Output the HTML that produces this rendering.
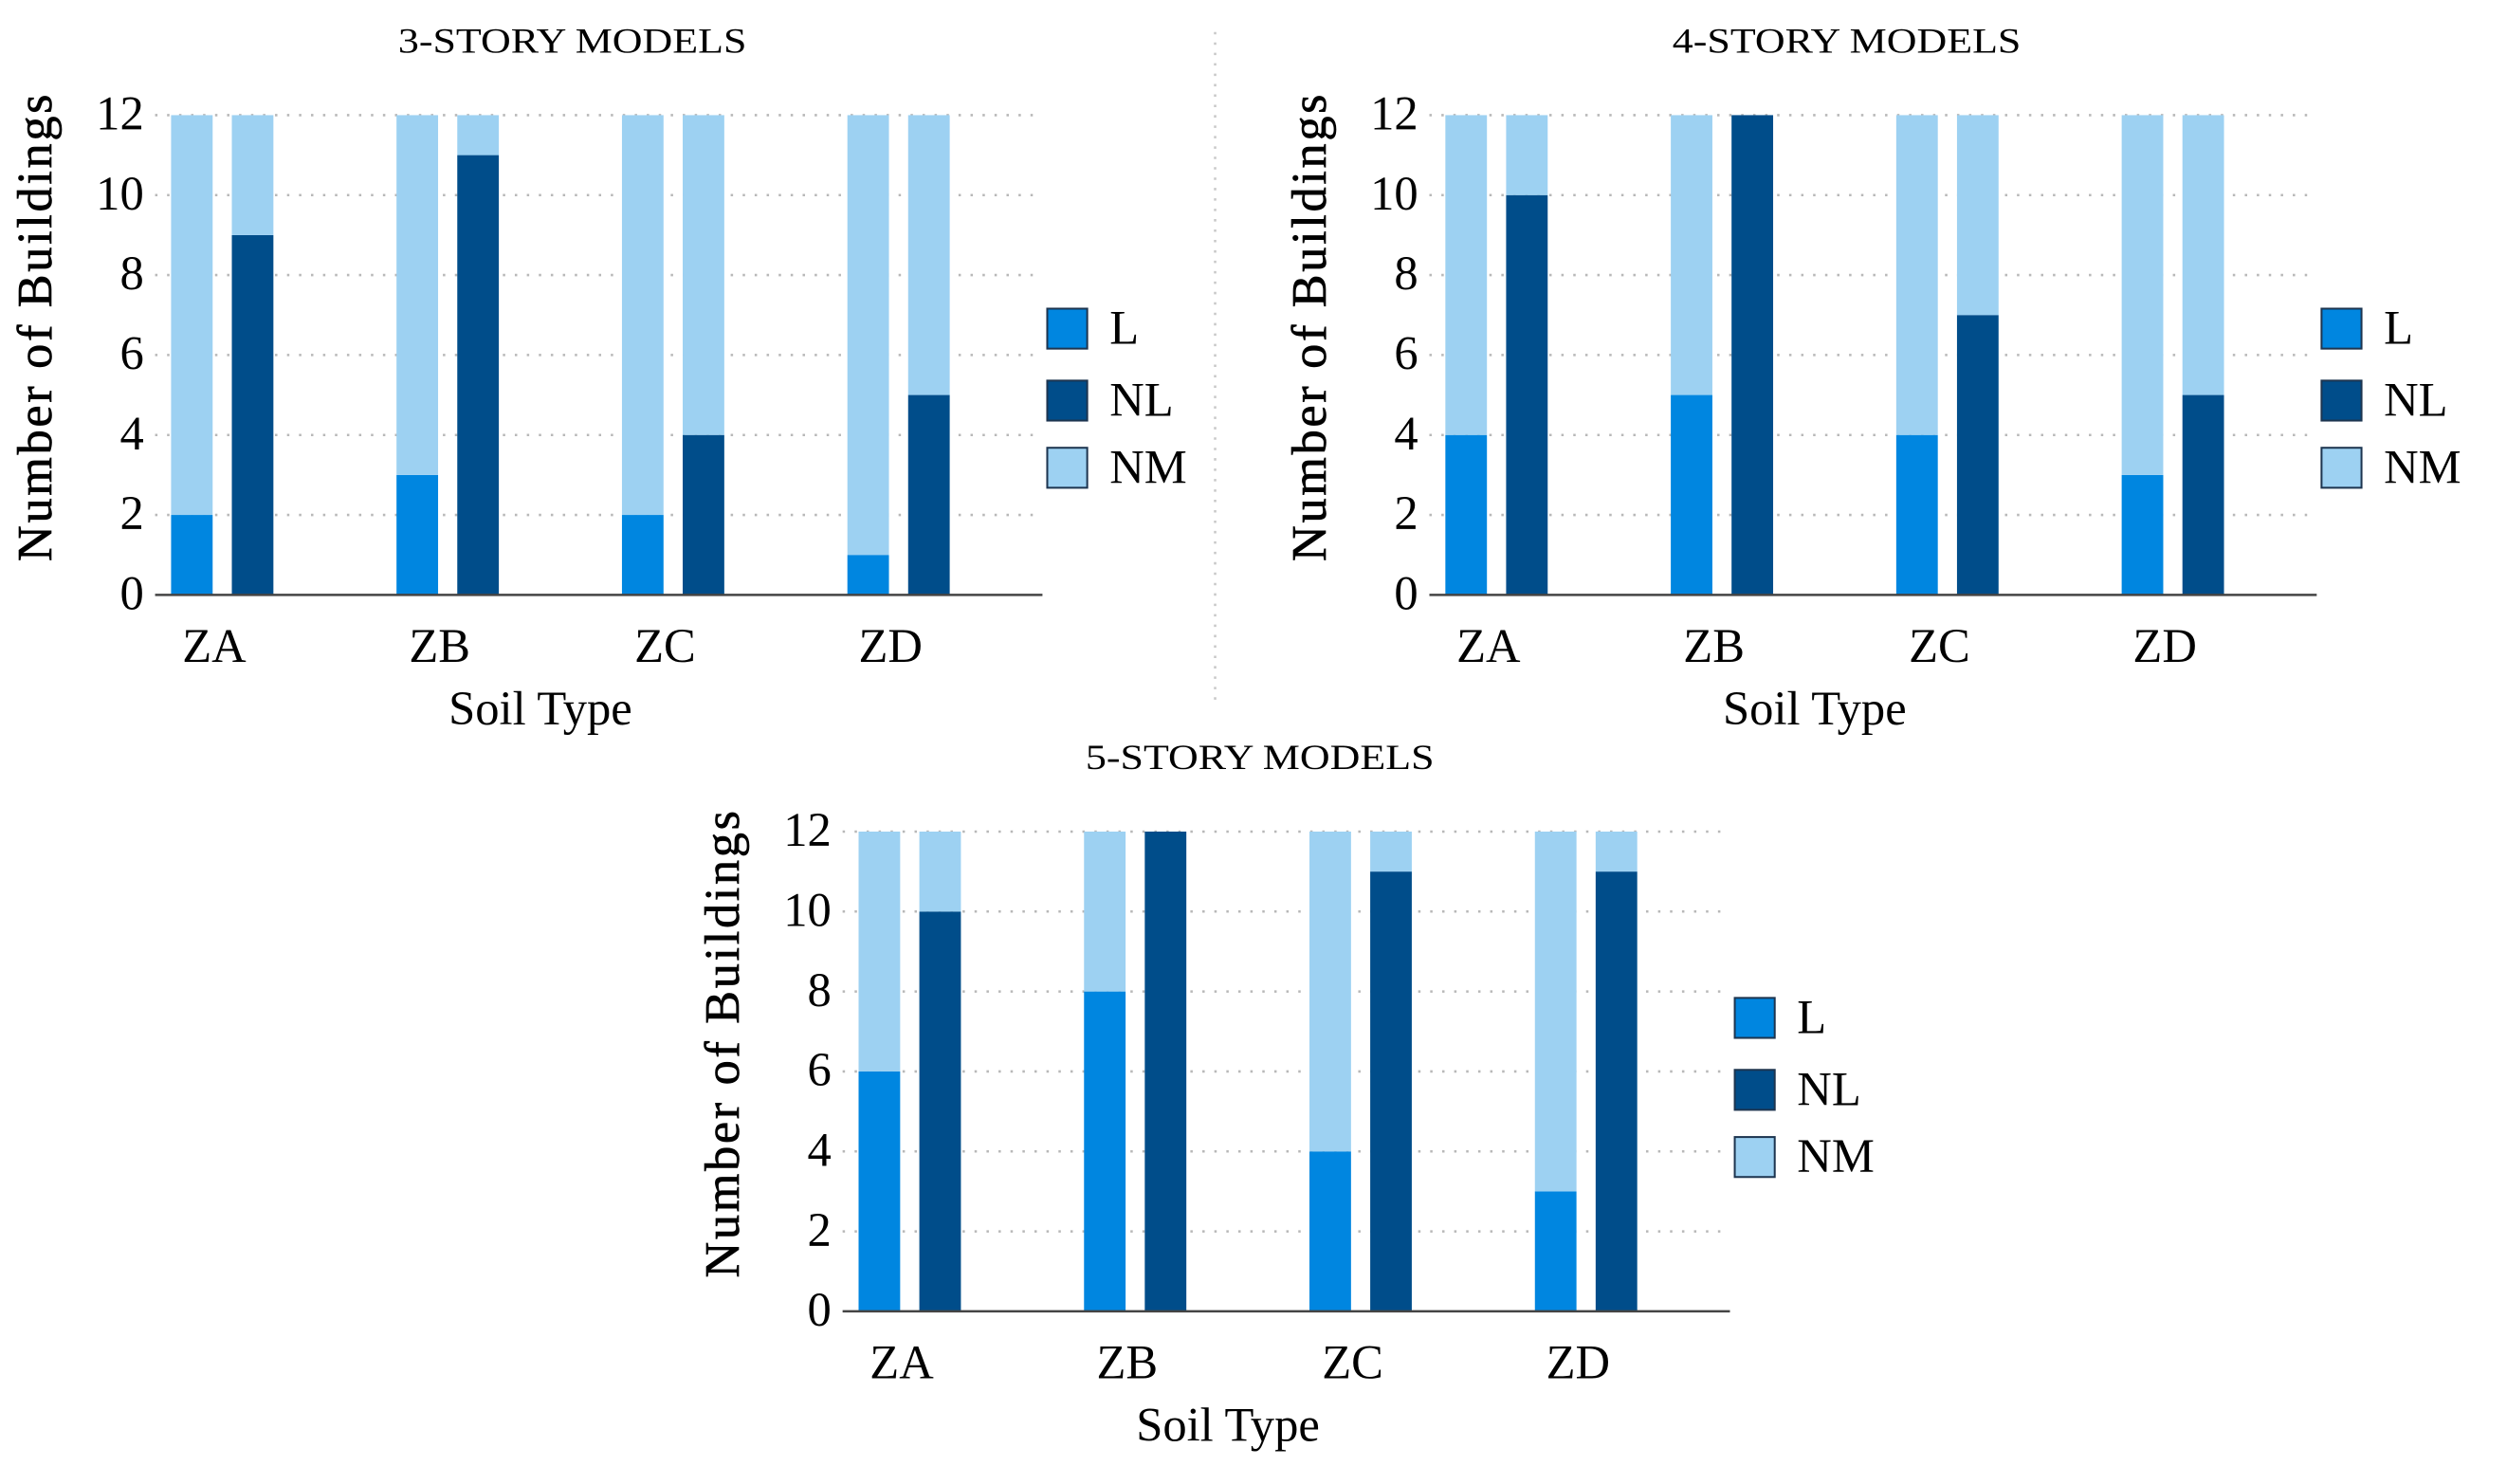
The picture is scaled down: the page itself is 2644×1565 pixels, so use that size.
<!DOCTYPE html>
<html><head><meta charset="utf-8"><style>
html,body{margin:0;padding:0;background:#fff;}
svg, svg text{font-family:"Liberation Serif","Times New Roman",serif;}
</style></head><body>
<svg id="svg" width="2644" height="1560" viewBox="0 0 1568 925" preserveAspectRatio="none" font-family="Liberation Serif, serif">
<line x1="760" y1="20" x2="760" y2="440" stroke="#c8c8c8" stroke-width="1.5" stroke-dasharray="1.5,5"/>
</svg>
<script>
const categories = ["ZA","ZB","ZC","ZD"];
const yTicks = [0,2,4,6,8,10,12];
const totalBuildings = 12;
const titles = ["3-STORY MODELS","4-STORY MODELS","5-STORY MODELS"];
const lValues3 = [2,3,2,1];
const nlValues3 = [9,11,4,5];
const lValues4 = [4,5,4,3];
const nlValues4 = [10,12,7,5];
const lValues5 = [6,8,4,3];
const nlValues5 = [10,12,11,11];
const legendLabels = ["L","NL","NM"];

const COLORS = {L:"#0086e0", NL:"#004d8a", NM:"#9dd1f2"};
const NS = "http://www.w3.org/2000/svg";
const svg = document.getElementById("svg");
function mk(tag, attrs, parent, text){
  const e = document.createElementNS(NS, tag);
  for (const k in attrs) e.setAttribute(k, attrs[k]);
  if (tag === "text") e.setAttribute("font-family", "Liberation Serif, serif");
  if (text !== undefined) e.textContent = text;
  (parent || svg).appendChild(e);
  return e;
}
const panels = [
  {dx:0, dy:0, l:lValues3, nl:nlValues3, title:titles[0], legY:[193,238,280], key:"3-story"},
  {dx:797, dy:0, l:lValues4, nl:nlValues4, title:titles[1], legY:[193,238,280], key:"4-story"},
  {dx:430, dy:448, l:lValues5, nl:nlValues5, title:titles[2], legY:[624,669,711], key:"5-story"}
];
panels.forEach(p => {
  const g = mk("g", {transform:`translate(${p.dx},${p.dy})`});
  
  
  const y0 = 372, yTop = 72;
  const yScale = v => y0 - (v / totalBuildings) * (y0 - yTop);
  const xL = i => 107 + i * 141;
  const bw = 26;
  const t = mk("text", {x:358, y:33, "text-anchor":"middle", "font-size":"22", textLength:"218", lengthAdjust:"spacingAndGlyphs"}, g, p.title);
  
  
  yTicks.forEach(v => {
    if (v > 0) {
      const gl = mk("line", {x1:97, x2:652, y1:yScale(v), y2:yScale(v), stroke:"#b8b8b8", "stroke-width":1.5, "stroke-dasharray":"1.5,6"}, g);
      
      
    }
    const tl = mk("text", {x:90, y:yScale(v)+9, "text-anchor":"end", "font-size":"30"}, g, String(v));
    
    
  });
  categories.forEach((c, i) => {
    const segs = [
      [xL(i), 0, p.l[i], COLORS.L, "bar-l"],
      [xL(i), p.l[i], totalBuildings, COLORS.NM, "bar-nm-l"],
      [xL(i)+38, 0, p.nl[i], COLORS.NL, "bar-nl"],
      [xL(i)+38, p.nl[i], totalBuildings, COLORS.NM, "bar-nm-nl"]
    ];
    segs.forEach(s => {
      if (s[2] - s[1] <= 0) return;
      const r = mk("rect", {x:s[0], y:yScale(s[2]), width:bw, height:yScale(s[1]) - yScale(s[2]), fill:s[3]}, g);
      
      
    });
    const xl = mk("text", {x:xL(i)+27, y:414, "text-anchor":"middle", "font-size":"30"}, g, c);
    
    
  });
  const ax = mk("line", {x1:97, x2:652, y1:y0, y2:y0, stroke:"#444", "stroke-width":1.5}, g);
  
  
  const xt = mk("text", {x:338, y:453, "text-anchor":"middle", "font-size":"30"}, g, "Soil Type");
  
  
  const yt = mk("text", {x:0, y:0, transform:"translate(32,205) rotate(-90)", "text-anchor":"middle", "font-size":"31", textLength:"292", lengthAdjust:"spacing", stroke:"#000", "stroke-width":"0.4"}, g, "Number of Buildings");
  
  
  const lg = mk("g", {}, svg);
  
  
  legendLabels.forEach((lab, k) => {
    const yy = p.legY[k];
    const sq = mk("rect", {x:p.dx+655, y:yy, width:25, height:25, fill:COLORS[lab], stroke:"#1d3550", "stroke-width":1.2}, lg);
    
    
    const tx = mk("text", {x:p.dx+694, y:yy+22, "font-size":"30"}, lg, lab);
    
    
  });
});
</script>
</body></html>
